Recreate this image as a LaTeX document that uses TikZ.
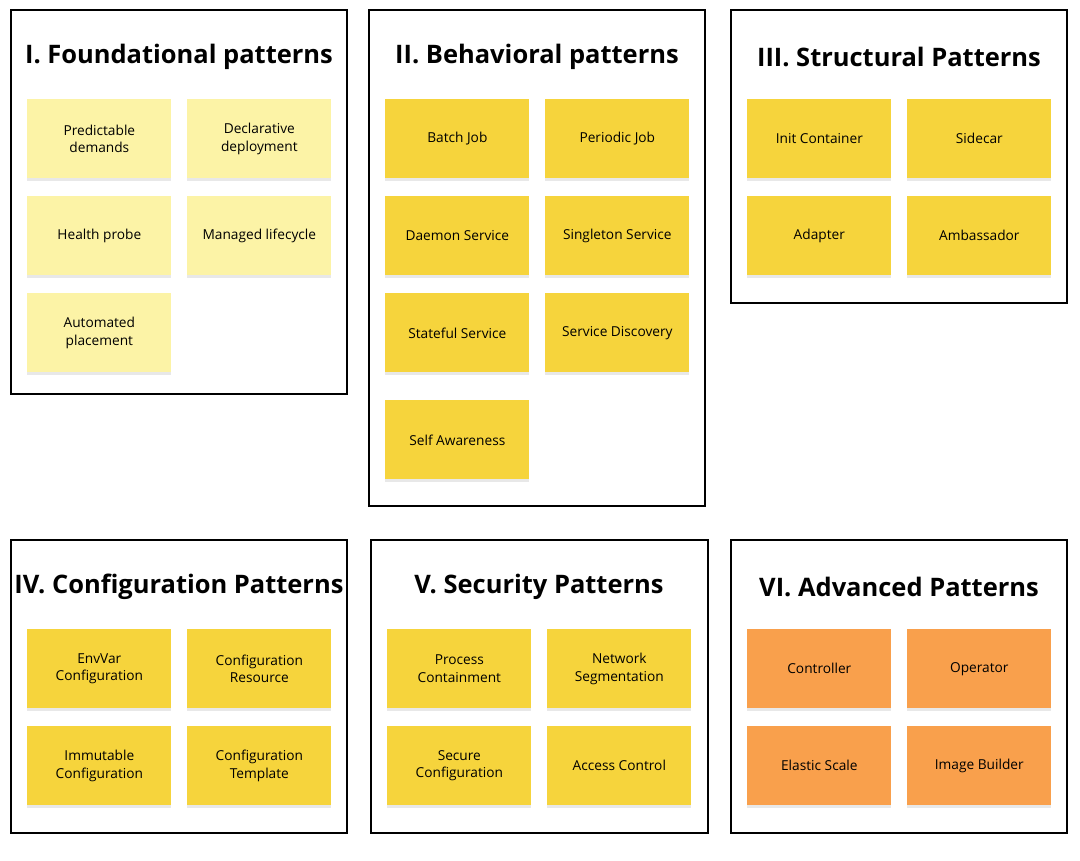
\documentclass[tikz,border=0pt]{standalone}
\usepackage{fontspec}
\setmainfont{Open Sans}
\definecolor{pale}{HTML}{FCF3A6}
\definecolor{yel}{HTML}{F6D43C}
\definecolor{ora}{HTML}{F9A04C}
\begin{document}
\begin{tikzpicture}[x=0.02cm,y=-0.02cm,
 frame/.style={draw=black,line width=0.8pt},
 title/.style={font=\bfseries\fontsize{14.5}{16}\selectfont,anchor=center},
 note/.style={minimum width=2.88cm,minimum height=1.58cm,inner sep=0pt,align=center,
   font=\fontsize{7.8}{10}\selectfont,anchor=north west,
   drop shadow/.style={},
   preaction={fill=black!25,opacity=0.35,transform canvas={yshift=-1.5pt}}},
 pn/.style={note,fill=pale},
 yn/.style={note,fill=yel},
 on/.style={note,fill=ora}]
\useasboundingbox (0,0) rectangle (1080,860);
\fill[white] (0,0) rectangle (1080,860);
% frames
\draw[frame] (11,10) rectangle (347,394);
\draw[frame] (369,10) rectangle (705,506);
\draw[frame] (731,10) rectangle (1067,303);
\draw[frame] (11,540) rectangle (347,833);
\draw[frame] (371,540) rectangle (708,833);
\draw[frame] (731,540) rectangle (1067,833);
% titles
\node[title] (t1) at (179,57) {I. Foundational patterns};
\node[title] (t2) at (537,57) {II. Behavioral patterns};
\node[title] (t3) at (899,57) {III. Structural Patterns};
\node[title] (t4) at (179,587) {IV. Configuration Patterns};
\node[title] (t5) at (539,587) {V. Security Patterns};
\node[title] (t6) at (899,587) {VI. Advanced Patterns};
% I
\node[pn] (a1) at (27,99) {Predictable\\demands};
\node[pn] (a2) at (187,99) {Declarative\\deployment};
\node[pn] (a3) at (27,196) {Health probe};
\node[pn] (a4) at (187,196) {Managed lifecycle};
\node[pn] (a5) at (27,293) {Automated\\placement};
% II
\node[yn] (b1) at (385,99) {Batch Job};
\node[yn] (b2) at (545,99) {Periodic Job};
\node[yn] (b3) at (385,196) {Daemon Service};
\node[yn] (b4) at (545,196) {Singleton Service};
\node[yn] (b5) at (385,293) {Stateful Service};
\node[yn] (b6) at (545,293) {Service Discovery};
\node[yn] (b7) at (385,400) {Self Awareness};
% III
\node[yn] (c1) at (747,99) {Init Container};
\node[yn] (c2) at (907,99) {Sidecar};
\node[yn] (c3) at (747,196) {Adapter};
\node[yn] (c4) at (907,196) {Ambassador};
% IV
\node[yn] (d1) at (27,629) {EnvVar\\Configuration};
\node[yn] (d2) at (187,629) {Configuration\\Resource};
\node[yn] (d3) at (27,726) {Immutable\\Configuration};
\node[yn] (d4) at (187,726) {Configuration\\Template};
% V
\node[yn] (e1) at (387,629) {Process\\Containment};
\node[yn] (e2) at (547,629) {Network\\Segmentation};
\node[yn] (e3) at (387,726) {Secure\\Configuration};
\node[yn] (e4) at (547,726) {Access Control};
% VI
\node[on] (f1) at (747,629) {Controller};
\node[on] (f2) at (907,629) {Operator};
\node[on] (f3) at (747,726) {Elastic Scale};
\node[on] (f4) at (907,726) {Image Builder};
\end{tikzpicture}
\end{document}
